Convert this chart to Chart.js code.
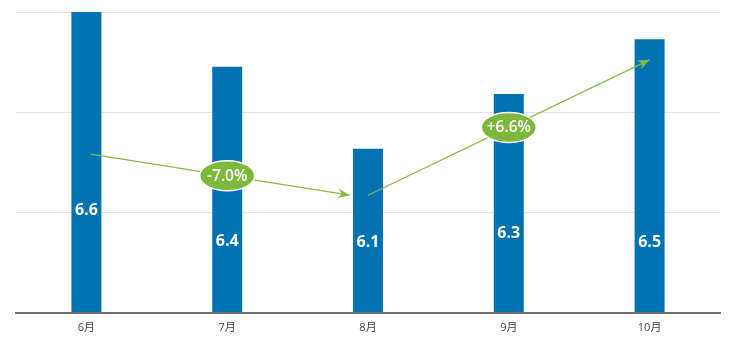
<!DOCTYPE html>
<html>
<head>
<meta charset="utf-8">
<script src="https://cdn.jsdelivr.net/npm/chart.js@4/dist/chart.umd.min.js"></script>
<style>
html,body{margin:0;padding:0;background:#fff;}
#wrap{width:736px;height:347px;}
</style>
</head>
<body>
<div id="wrap"><canvas id="c" width="736" height="347"></canvas></div>
<script>
// ---- data ----
const categories = ['6月', '7月', '8月', '9月', '10月'];
const values = [6.6, 6.4, 6.1, 6.3, 6.5];
const valueLabels = ['6.6', '6.4', '6.1', '6.3', '6.5'];
const changeLabels = ['-7.0%', '+6.6%'];
// arrow annotations: [categoryIndex, value] start/end
const arrowStarts = [[0.03, 6.08], [2.0, 5.93]];
const arrowEnds = [[1.87, 5.93], [4.0, 6.425]];
const badgeAt = [1, 3]; // category index of badge on each arrow

// label vertical anchor (value units) for in-bar labels
const labelAnchor = [5.875, 5.76, 5.756, 5.79, 5.756];

const BAR = '#0272b3';
const GREEN = '#7cb83a';
const FONT = "'Open Sans', 'Noto Sans CJK SC', sans-serif";

const overlay = {
  id: 'overlay',
  afterDatasetsDraw(chart) {
    const ctx = chart.ctx;
    const xs = chart.scales.x, ys = chart.scales.y;
    const px = i => {
      const base = Math.floor(i), f = i - base;
      const a = xs.getPixelForValue(base);
      const b = xs.getPixelForValue(Math.min(base + 1, categories.length - 1));
      return base + 1 < categories.length ? a + (b - a) * f : a;
    };
    // in-bar value labels
    ctx.save();
    ctx.fillStyle = '#fff';
    ctx.font = "700 16px " + FONT;
    ctx.textAlign = 'center';
    ctx.textBaseline = 'middle';
    values.forEach((v, i) => {
      ctx.fillText(valueLabels[i], xs.getPixelForValue(i), ys.getPixelForValue(labelAnchor[i]));
    });
    ctx.restore();
    // arrows
    arrowStarts.forEach((s, k) => {
      const e = arrowEnds[k];
      const x1 = px(s[0]), y1 = ys.getPixelForValue(s[1]);
      const x2 = px(e[0]), y2 = ys.getPixelForValue(e[1]);
      ctx.save();
      ctx.strokeStyle = '#86bb42';
      ctx.lineWidth = 1.3;
      ctx.beginPath();
      ctx.moveTo(x1, y1);
      ctx.lineTo(x2, y2);
      ctx.stroke();
      const ang = Math.atan2(y2 - y1, x2 - x1);
      ctx.fillStyle = '#86bb42';
      ctx.beginPath();
      ctx.moveTo(x2, y2);
      ctx.lineTo(x2 - 12 * Math.cos(ang) + 5 * Math.sin(ang), y2 - 12 * Math.sin(ang) - 5 * Math.cos(ang));
      ctx.lineTo(x2 - 8 * Math.cos(ang), y2 - 8 * Math.sin(ang));
      ctx.lineTo(x2 - 12 * Math.cos(ang) - 5 * Math.sin(ang), y2 - 12 * Math.sin(ang) + 5 * Math.cos(ang));
      ctx.closePath();
      ctx.fill();
      // badge
      const bx = xs.getPixelForValue(badgeAt[k]);
      const t = (bx - x1) / (x2 - x1);
      const by = y1 + (y2 - y1) * t;
      ctx.beginPath();
      ctx.ellipse(bx, by, 27.5, 15, 0, 0, Math.PI * 2);
      ctx.fillStyle = GREEN;
      ctx.fill();
      ctx.lineWidth = 1.5;
      ctx.strokeStyle = '#ffffff';
      ctx.stroke();
      ctx.fillStyle = '#fff';
      ctx.font = "600 15.5px " + FONT;
      ctx.textAlign = 'center';
      ctx.textBaseline = 'middle';
      ctx.fillText(changeLabels[k], bx, by + 0.5);
      ctx.restore();
    });
  }
};

new Chart(document.getElementById('c'), {
  type: 'bar',
  data: {
    labels: categories,
    datasets: [{
      data: values,
      backgroundColor: BAR,
      borderWidth: 0,
      barPercentage: 0.213,
      categoryPercentage: 1.0
    }]
  },
  options: {
    responsive: false,
    animation: false,
    devicePixelRatio: 1,
    layout: { padding: { left: 16, right: 16, top: 12, bottom: 5 } },
    plugins: { legend: { display: false }, tooltip: { enabled: false } },
    scales: {
      x: {
        grid: { color: 'rgba(0,0,0,0)', drawTicks: false },
        border: { display: true, color: '#6f6f6f', width: 2, z: 1 },
        ticks: { color: '#444', font: { family: FONT, size: 11 }, padding: 8 }
      },
      y: {
        min: 5.5,
        max: 6.6,
        ticks: { display: false, count: 4 },
        grid: { color: '#e3e3e3', lineWidth: 1, drawTicks: false },
        border: { display: false }
      }
    }
  },
  plugins: [overlay]
});
</script>
</body>
</html>
